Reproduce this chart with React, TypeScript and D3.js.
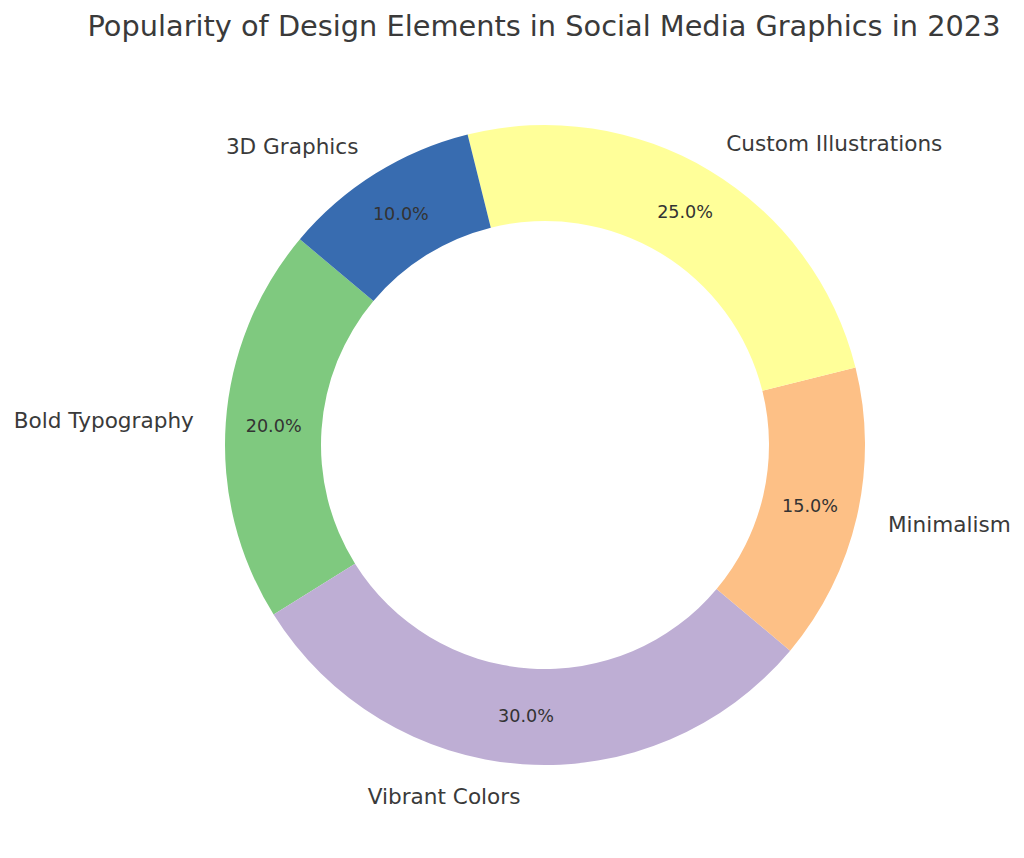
import React from "react";
import * as d3 from "d3";

const categories = ["Bold Typography", "Vibrant Colors", "Minimalism", "Custom Illustrations", "3D Graphics"];
const values = [20, 30, 15, 25, 10];
const colors = ["#7fc97f", "#beaed4", "#fdc086", "#ffff99", "#386cb0"];
const title = "Popularity of Design Elements in Social Media Graphics in 2023";

const W = 1024;
const H = 858;
const cx = 545;
const cy = 445;
const R = 320;
const startAngleDeg = 140;

export default function App() {
  const total = d3.sum(values);
  // matplotlib-like: counterclockwise from startangle (math angle, degrees)
  const scale = d3.scaleLinear().domain([0, total]).range([startAngleDeg, startAngleDeg + 360]);
  const cum = d3.cumsum(values);
  const slices = values.map((v, i) => {
    const a0 = scale(i === 0 ? 0 : cum[i - 1]);
    const a1 = scale(cum[i]);
    return { v, i, a0, a1 };
  });
  // convert math angle (ccw from +x) to d3 angle (cw from 12 o'clock)
  const toD3 = (deg: number) => ((90 - deg) * Math.PI) / 180;
  const arc = d3.arc<any>().innerRadius(R * 0.7).outerRadius(R);

  return (
    <svg
      width={W}
      height={H}
      style={{ position: "absolute", left: 0, top: 0, background: "#fff" }}
      fontFamily="DejaVu Sans, sans-serif"
    >
      <rect width={W} height={H} fill="#ffffff" />
      <text x={544} y={26} textAnchor="middle" dominantBaseline="central" fontSize={28.8} fill="#3a3a3a">
        {title}
      </text>
      <g transform={`translate(${cx},${cy})`}>
        {slices.map((s) => (
          <path
            key={s.i}
            d={arc({ startAngle: toD3(s.a1), endAngle: toD3(s.a0) }) as string}
            fill={colors[s.i]}
            stroke="none"
          />
        ))}
        {slices.map((s) => {
          const mid = ((s.a0 + s.a1) / 2) * (Math.PI / 180);
          const lx = 1.1 * R * Math.cos(mid);
          const ly = -1.1 * R * Math.sin(mid);
          const px = 0.85 * R * Math.cos(mid);
          const py = -0.85 * R * Math.sin(mid);
          return (
            <g key={"t" + s.i}>
              <text
                x={lx}
                y={ly}
                textAnchor={lx < 0 ? "end" : "start"}
                dominantBaseline="central"
                fontSize={21.6}
                fill="#3a3a3a"
              >
                {categories[s.i]}
              </text>
              <text x={px} y={py} textAnchor="middle" dominantBaseline="central" fontSize={17.6} fill="#333333">
                {`${((s.v / total) * 100).toFixed(1)}%`}
              </text>
            </g>
          );
        })}
      </g>
    </svg>
  );
}
